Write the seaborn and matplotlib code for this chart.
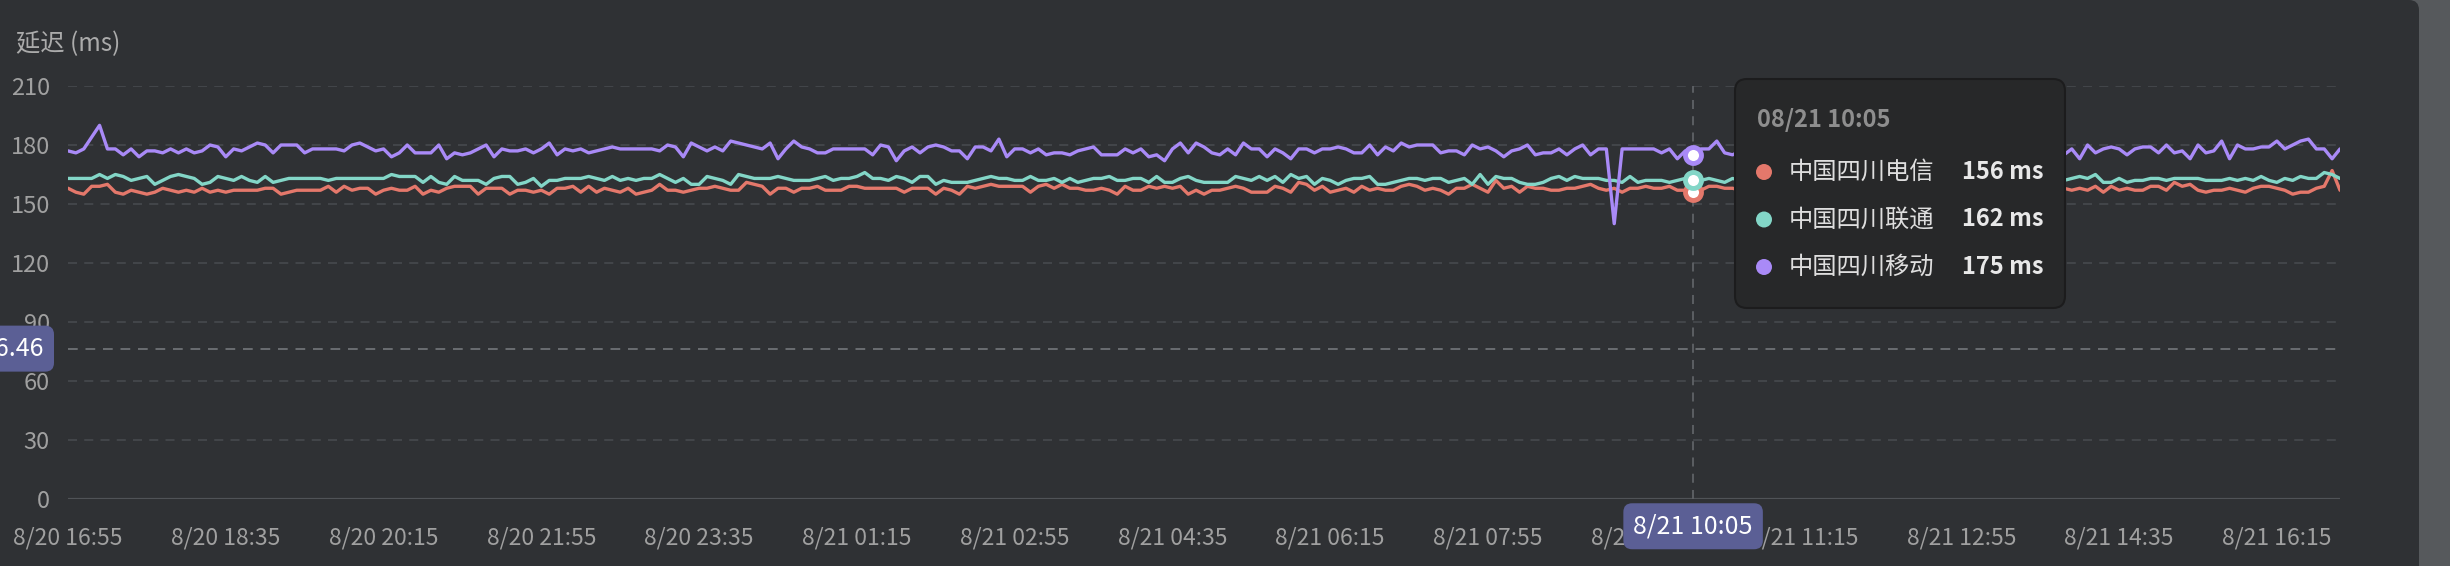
import pandas as pd
import numpy as np
import matplotlib
matplotlib.use("Agg")
import matplotlib.pyplot as plt
import matplotlib.transforms as mtransforms
from matplotlib.patches import FancyBboxPatch, Circle
import seaborn as sns

# latency samples, every 5 minutes from 8/20 16:55 to 8/21 16:55
start_time = "2024-08-20 16:55"
series_names = ["中国四川电信", "中国四川联通", "中国四川移动"]

telecom = [
    158, 156, 155, 159, 159, 160, 156, 155, 157, 156, 155, 156, 158, 157, 156, 157, 156, 158, 156, 157,
    156, 157, 157, 157, 157, 158, 158, 155, 156, 157, 157, 157, 157, 159, 156, 159, 157, 158, 158, 155,
    157, 158, 157, 157, 159, 155, 157, 156, 158, 159,
    159, 159, 155, 158, 158, 158, 155, 157, 157, 156, 157, 155, 158, 158, 159, 156, 159, 156, 158, 157,
    156, 158, 155, 156, 157, 160, 157, 157, 156, 157, 158, 158, 159, 158, 157, 157, 161, 160, 159, 155,
    158, 158, 156, 158, 158, 159, 157, 157, 157, 159,
    159, 158, 158, 158, 158, 158, 156, 158, 158, 158, 155, 158, 157, 155, 159, 158, 159, 160, 159, 159,
    159, 159, 156, 159, 160, 158, 160, 158, 158, 157, 157, 158, 157, 155, 159, 157, 157, 159, 158, 159,
    158, 159, 155, 157, 155, 157, 157, 158, 159, 158,
    156, 156, 156, 159, 158, 156, 161, 160, 157, 159, 156, 157, 158, 156, 159, 157, 158, 157, 157, 159,
    160, 159, 157, 158, 157, 155, 158, 158, 160, 158, 156, 162, 158, 159, 156, 159, 158, 158, 157, 157,
    158, 158, 159, 160, 158, 157, 158, 156, 158,
    158, 159, 158, 158, 159, 157, 157, 156, 157, 159, 159, 158, 158,
    157, 158, 156, 157, 159, 157, 156, 158, 157, 156, 158, 157, 159, 157, 156, 157, 158, 156, 157, 158,
    159, 157, 156, 158, 157, 156, 157, 158, 157, 159, 157, 156, 158, 157, 156, 158, 157, 159, 157, 156,
    157, 158,
    157, 158, 157, 159, 156, 159, 157, 158, 157, 157, 159, 159, 157, 161, 159, 160, 157, 156, 157, 157,
    158, 157, 156, 158, 159, 159, 158, 157, 155, 156, 156, 158, 159, 167, 157,
]
unicom = [
    163, 163, 163, 163, 165, 163, 165, 164, 162, 163, 164, 160, 162, 164, 165, 164, 163, 160, 161, 164,
    163, 162, 164, 162, 161, 164, 161, 162, 163, 163, 163, 163, 163, 162, 163, 163, 163, 163, 163, 163,
    163, 165, 164, 164, 164, 161, 164, 161, 160, 164,
    162, 162, 162, 160, 163, 164, 164, 160, 161, 163, 159, 162, 162, 163, 163, 163, 164, 163, 162, 164,
    162, 163, 162, 163, 163, 165, 163, 161, 163, 160, 160, 164, 163, 162, 160, 165, 164, 163, 163, 163,
    164, 163, 162, 162, 162, 163, 164, 162, 163, 163,
    164, 166, 163, 163, 162, 164, 163, 161, 164, 164, 160, 162, 161, 161, 161, 162, 163, 164, 163, 163,
    162, 162, 164, 162, 162, 163, 161, 163, 161, 162, 163, 163, 164, 162, 162, 163, 163, 161, 164, 161,
    161, 163, 164, 162, 161, 161, 161, 161, 164, 163,
    162, 164, 162, 164, 161, 165, 163, 164, 160, 163, 162, 160, 162, 163, 163, 164, 160, 160, 161, 162,
    163, 163, 162, 163, 163, 161, 162, 163, 160, 165, 160, 164, 163, 163, 161, 160, 160, 161, 163, 164,
    162, 164, 163, 163, 163, 162, 162, 161, 164,
    161, 162, 162, 162, 161, 162, 163, 162, 162, 163, 162, 161, 163,
    162, 163, 161, 163, 162, 164, 162, 163, 161, 162, 163, 162, 164, 163, 161, 162, 163, 162, 164, 162,
    163, 161, 162, 163, 162, 164, 163, 162, 161, 163, 162, 163, 164, 162, 163, 161, 162, 163, 162, 164,
    163, 162,
    163, 164, 163, 165, 161, 161, 163, 161, 162, 162, 163, 163, 162, 163, 163, 163, 163, 162, 162, 162,
    163, 162, 163, 162, 164, 162, 161, 163, 162, 164, 163, 163, 166, 165, 163,
]
mobile = [
    177, 176, 178, 184, 190, 178, 178, 175, 178, 174, 177, 177, 176, 178, 176, 178, 176, 177, 180, 179,
    174, 178, 177, 179, 181, 180, 176, 180, 180, 180, 176, 178, 178, 178, 178, 177, 180, 181, 179, 177,
    178, 174, 176, 180, 176, 176, 176, 180, 173, 176,
    175, 176, 178, 180, 174, 178, 177, 177, 178, 176, 178, 181, 175, 178, 177, 178, 176, 177, 178, 179,
    178, 178, 178, 178, 178, 177, 180, 179, 174, 181, 179, 177, 179, 177, 182, 181, 180, 179, 178, 181,
    173, 178, 182, 179, 178, 176, 176, 178, 178, 178,
    178, 178, 175, 180, 179, 172, 177, 179, 176, 179, 180, 179, 177, 177, 173, 179, 179, 177, 183, 174,
    178, 178, 176, 178, 175, 176, 176, 175, 177, 178, 179, 175, 175, 175, 178, 176, 178, 174, 175, 172,
    178, 181, 176, 181, 179, 176, 175, 178, 175, 181,
    178, 178, 174, 178, 176, 173, 178, 178, 176, 178, 178, 179, 178, 176, 176, 180, 175, 179, 177, 181,
    179, 180, 180, 180, 176, 177, 177, 175, 180, 178, 179, 177, 174, 177, 178, 180, 175, 176, 176, 178,
    175, 178, 180, 175, 178, 178, 140, 178, 178,
    178, 178, 178, 176, 178, 173, 177, 175, 178, 178, 182, 176, 175,
    177, 179, 176, 178, 180, 175, 178, 177, 179, 176, 178, 181, 177, 175, 178, 179, 177, 180, 176, 178,
    177, 179, 175, 178, 180, 177, 176, 178, 179, 177, 175, 178, 180, 177, 178, 176, 179, 177, 178, 176,
    177, 175,
    178, 173, 180, 176, 178, 179, 178, 175, 178, 179, 179, 176, 180, 176, 177, 173, 180, 176, 177, 182,
    173, 180, 178, 178, 179, 179, 182, 178, 180, 182, 183, 178, 178, 173, 178,
]
line_colors = ["#e4786b", "#83d6c7", "#a98af7"]

hover_index = 206      # 8/21 10:05
pointer_value = 76.46
y_ticks = [0, 30, 60, 90, 120, 150, 180, 210]

times = pd.date_range(start_time, periods=len(telecom), freq="5min")
df = pd.DataFrame({
    "idx": np.tile(np.arange(len(times)), 3),
    "ms": telecom + unicom + mobile,
    "line": np.repeat(series_names, len(times)),
})

sns.set_theme(style="dark")
plt.rcParams["font.family"] = ["Noto Sans CJK SC", "DejaVu Sans"]

W, H = 2450, 566
fig = plt.figure(figsize=(W / 100, H / 100), dpi=100, facecolor="#56595c")
px = mtransforms.Affine2D().scale(1 / W, 1 / H) + fig.transFigure

# dark panel with rounded top-right corner
panel = FancyBboxPatch((-40, -40), 2459, H + 40, boxstyle="round,pad=0,rounding_size=10",
                       transform=px, fc="#2f3134", ec="none", zorder=-10)
fig.patches.append(panel)

left, right, top, bottom = 68, 2340, 86, 499
ax = fig.add_axes([left / W, 1 - bottom / H, (right - left) / W, (bottom - top) / H])
ax.set_facecolor("none")

sns.lineplot(data=df, x="idx", y="ms", hue="line", palette=line_colors,
             linewidth=2.4, legend=False, ax=ax, zorder=4)

ax.set_xlim(0, len(times) - 1)
ax.set_ylim(0, 210)
ax.set_yticks(y_ticks)
xt = list(range(0, len(times), 20))
ax.set_xticks(xt)
ax.set_xticklabels([f"{times[i].month}/{times[i].day} {times[i]:%H:%M}" for i in xt])
ax.set_xlabel("")
ax.set_ylabel("")
ax.tick_params(axis="x", colors="#a0a0a0", labelsize=16.5, length=0, pad=20)
ax.tick_params(axis="y", colors="#a0a0a0", labelsize=17, length=0, pad=13)
for s in ax.spines.values():
    s.set_visible(False)
ax.grid(False)
for v in y_ticks[1:]:
    ax.axhline(v, color="#45484c", lw=1.3, ls=(0, (5, 4)), zorder=1)
ax.axhline(0, color="#505357", lw=1.6, zorder=1)

# crosshair
ax.axvline(hover_index, color="#5f6266", lw=1.3, ls=(0, (5, 4)), zorder=2)
ax.axhline(pointer_value, color="#6a6d71", lw=1.4, ls=(0, (5, 4)), zorder=2)
for vals, c in zip([telecom, unicom, mobile], line_colors):
    ax.plot([hover_index], [vals[hover_index]], marker="o", ms=11.5, mfc="white", mec=c,
            mew=3.5, zorder=6, clip_on=False)

badge = dict(boxstyle="round,pad=0.4,rounding_size=0.35", fc="#5b5f95", ec="none")
ax.text(44, pointer_value, f"{pointer_value:.2f}", color="white", fontsize=18, ha="right", va="center",
        transform=mtransforms.blended_transform_factory(px, ax.transData), bbox=badge, zorder=7)
t = times[hover_index]
ax.text(hover_index, -0.066, f"{t.month}/{t.day} {t:%H:%M}", color="white", fontsize=18,
        ha="center", va="center", transform=ax.get_xaxis_transform(), bbox=badge, zorder=7)

fig.text(16 / W, 1 - 44 / H, "延迟 (ms)", color="#ababab", fontsize=17.5, ha="left", va="center")

# tooltip
tip = FancyBboxPatch((1735, H - 308), 330, 229, boxstyle="round,pad=0,rounding_size=12",
                     transform=px, fc="#272829", ec="#1c1c1d", lw=1.5, zorder=5)
fig.patches.append(tip)
fig.text(1757, H - 120, f"{t:%m/%d %H:%M}", transform=px, color="#8e8e8e", fontsize=17,
         fontweight="bold", ha="left", va="center", zorder=6)
for k, (name, vals, c) in enumerate(zip(series_names, [telecom, unicom, mobile], line_colors)):
    yy = H - (172 + 47.5 * k)
    fig.patches.append(Circle((1764, yy), 8, transform=px, fc=c, ec="none", zorder=6))
    fig.text(1789, yy, name, transform=px, color="#dedede", fontsize=17.5, ha="left", va="center", zorder=6)
    fig.text(2044, yy, f"{vals[hover_index]} ms", transform=px, color="#e8e8e8", fontsize=17,
             fontweight="bold", ha="right", va="center", zorder=6)

fig.savefig("out.png", dpi=100, facecolor=fig.get_facecolor())
